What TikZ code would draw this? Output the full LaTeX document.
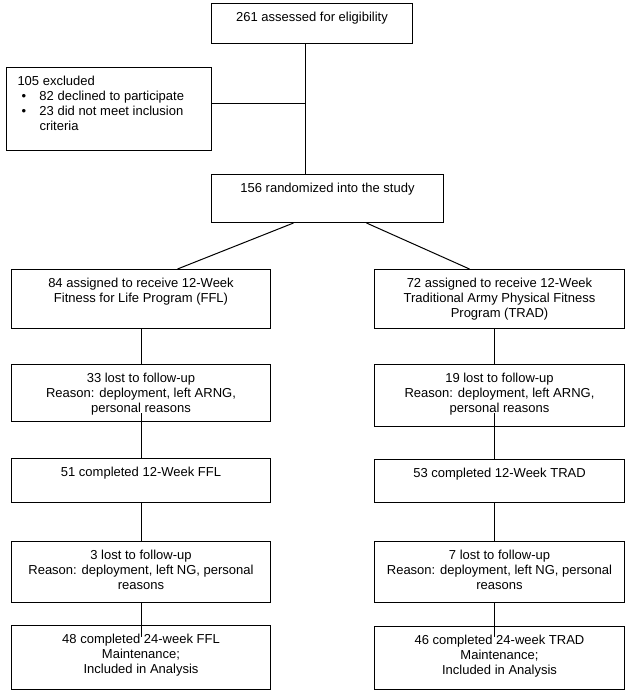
\documentclass[tikz,border=0pt]{standalone}
\usepackage{fontspec}
\setmainfont{Liberation Sans}
\newcommand{\boxtext}[3]{\parbox[c][#2][t]{#1}{\centering\vspace*{7pt}\strut #3}}
\begin{document}
\begin{tikzpicture}[x=1pt, y=-1pt, line width=1pt,
  every node/.style={draw, rectangle, inner sep=0pt, anchor=north west, font=\fontsize{13}{15}\selectfont}]
\useasboundingbox (0,0) rectangle (631,694);
\node (elig) at (211,3) {\boxtext{201pt}{40pt}{261 assessed for eligibility}};
\node (excl) at (6,67) {\parbox[c][83pt][t]{205pt}{\raggedright\leftskip=11pt\vspace*{7.5pt}\strut 105 excluded\\
  \makebox[22pt][l]{\hspace{4pt}\textbullet}82 declined to participate\\
  \makebox[22pt][l]{\hspace{4pt}\textbullet}23 did not meet inclusion\\
  \hspace*{22pt}criteria}};
\node (rand) at (211,174) {\boxtext{232pt}{48pt}{156 randomized into the study}};
\node (asgA) at (11,269) {\boxtext{259pt}{59pt}{84 assigned to receive 12-Week\\ Fitness for Life Program (FFL)}};
\node (asgB) at (374,269) {\boxtext{250pt}{59pt}{72 assigned to receive 12-Week\\ Traditional Army Physical Fitness\\ Program (TRAD)}};
\node (lostA) at (11,364) {\boxtext{259pt}{57pt}{33 lost to follow-up\\ Reason: deployment, left ARNG,\\ personal reasons}};
\node (lostB) at (374,364) {\boxtext{250pt}{62pt}{19 lost to follow-up\\ Reason: deployment, left ARNG,\\ personal reasons}};
\node (doneA) at (11,458) {\boxtext{259pt}{44pt}{51 completed 12-Week FFL}};
\node (doneB) at (374,459) {\boxtext{250pt}{43pt}{53 completed 12-Week TRAD}};
\node (dropA) at (11,541) {\boxtext{259pt}{61pt}{3 lost to follow-up\\ Reason: deployment, left NG, personal\\ reasons}};
\node (dropB) at (374,541) {\boxtext{250pt}{61pt}{7 lost to follow-up\\ Reason: deployment, left NG, personal\\ reasons}};
\node (endA) at (11,625) {\boxtext{259pt}{64pt}{48 completed 24-week FFL\\ Maintenance;\\ Included in Analysis}};
\node (endB) at (374,626) {\boxtext{250pt}{63pt}{46 completed 24-week TRAD\\ Maintenance;\\ Included in Analysis}};
\coordinate (join) at (305,103);
\draw (join |- elig.south) -- (join |- rand.north);
\draw (excl.east |- join) -- (join);
\draw ([xshift=-34pt]rand.south) -- ([xshift=36.5pt]asgA.north);
\draw ([xshift=39pt]rand.south) -- ([xshift=-30pt]asgB.north);
\draw (asgA.south) -- (lostA.north);
\draw ([yshift=9pt]lostA.south) -- (doneA.north);
\draw (doneA.south) -- (dropA.north);
\draw (dropA.south) -- ([yshift=-12pt]endA.north);
\draw ([xshift=-5pt]asgB.south) -- ([xshift=-5pt]lostB.north);
\draw ([xshift=-5pt,yshift=14pt]lostB.south) -- ([xshift=-5pt]doneB.north);
\draw ([xshift=-5pt]doneB.south) -- ([xshift=-5pt]dropB.north);
\draw ([xshift=-5pt]dropB.south) -- ([xshift=-5pt,yshift=-11pt]endB.north);
\end{tikzpicture}
\end{document}
